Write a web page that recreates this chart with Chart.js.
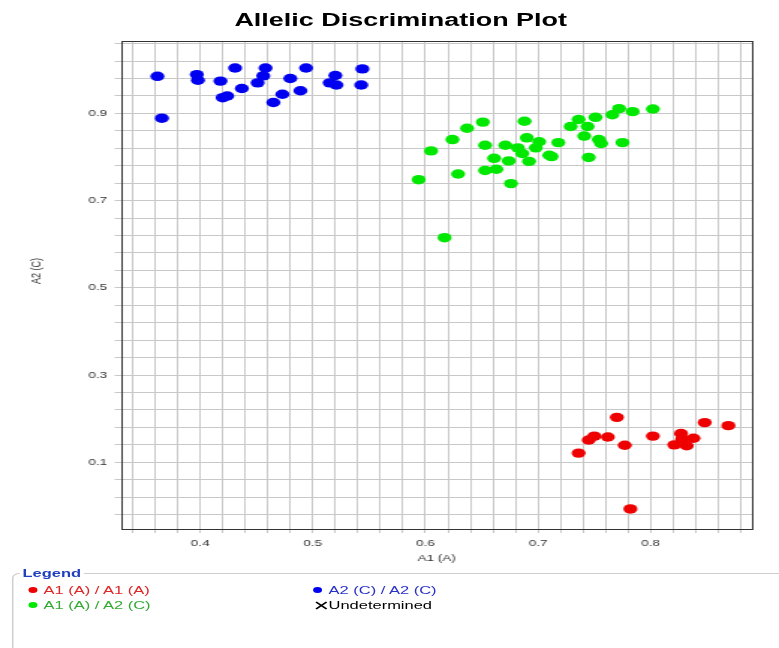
<!DOCTYPE html>
<html>
<head>
<meta charset="utf-8">
<script src="https://cdn.jsdelivr.net/npm/chart.js@4.4.1/dist/chart.umd.min.js"></script>
<style>
  html, body { margin: 0; padding: 0; background: #fff; overflow: hidden; }
  /* the reference picture is stretched sideways, so the whole page is drawn narrow and scaled */
  #page { position: absolute; left: 0; top: 0; width: 520px; height: 648px;
          transform: scaleX(1.498); transform-origin: 0 0;
          font-family: "Liberation Sans", Arial, sans-serif; }
  #title { position: absolute; left: 0; top: 10px; width: 535px; text-align: center;
           font-weight: bold; font-size: 18px; line-height: 20px; color: #000; }
  #chart { position: absolute; left: 0; top: 0; }
  #legendBox { position: absolute; left: 8px; top: 573px; width: 600px; height: 120px;
               border: 1px solid #cfcfcf; border-radius: 5px; }
  #legendTitle { position: absolute; left: 13px; top: 566.5px; padding: 0 2px; background: #fff;
                 font-weight: bold; font-size: 11px; line-height: 13px; color: #1f3fbf; }
  .item { position: absolute; font-size: 11px; line-height: 13px; white-space: nowrap; }
  .dot { position: absolute; width: 6px; height: 6px; border-radius: 50%; }
</style>
</head>
<body>
<div id="page">
  <div id="title">Allelic Discrimination Plot</div>
  <canvas id="chart" width="520" height="570"></canvas>
  <div id="legendBox"></div>
  <div id="legendTitle">Legend</div>
  <div id="legendItems"></div>
</div>
<script>
// series names / colours
const seriesNames = ['A1 (A) / A1 (A)', 'A1 (A) / A2 (C)', 'A2 (C) / A2 (C)', 'Undetermined'];
const pointColors = ['#ee0000', '#00e800', '#0000f0', '#000000'];
const textColors = ['#dd2626', '#33aa33', '#2a32c8', '#000000'];

// A1/A1 (red)
const a1a1X = [0.736, 0.745, 0.750, 0.762, 0.770, 0.777, 0.782, 0.802, 0.821, 0.827, 0.828, 0.832, 0.838, 0.848, 0.869];
const a1a1Y = [0.121, 0.151, 0.160, 0.158, 0.203, 0.139, -0.007, 0.160, 0.140, 0.166, 0.153, 0.138, 0.155, 0.191, 0.184];

// A1/A2 (green)
const a1a2X = [0.594, 0.605, 0.617, 0.624, 0.629, 0.637, 0.651, 0.653, 0.653, 0.661, 0.663, 0.671, 0.674, 0.676, 0.682, 0.686, 0.688, 0.690, 0.692,
               0.698, 0.701, 0.710, 0.712, 0.718, 0.729, 0.736, 0.741, 0.744, 0.745, 0.751, 0.754, 0.756, 0.766, 0.772, 0.775, 0.784, 0.802];
const a1a2Y = [0.748, 0.814, 0.615, 0.840, 0.761, 0.866, 0.880, 0.827, 0.769, 0.797, 0.772, 0.827, 0.791, 0.739, 0.821, 0.808, 0.882, 0.844, 0.790,
               0.821, 0.835, 0.804, 0.801, 0.833, 0.870, 0.886, 0.848, 0.870, 0.799, 0.891, 0.840, 0.831, 0.897, 0.911, 0.833, 0.904, 0.910];

// A2/A2 (blue)
const a2a2X = [0.362, 0.366, 0.397, 0.398, 0.418, 0.431, 0.420, 0.424, 0.437, 0.451, 0.458, 0.456, 0.465, 0.473, 0.480, 0.494, 0.489, 0.520, 0.515, 0.521, 0.544, 0.543];
const a2a2Y = [0.985, 0.889, 0.989, 0.976, 0.974, 1.004, 0.936, 0.940, 0.957, 0.970, 1.004, 0.986, 0.925, 0.944, 0.980, 1.004, 0.952, 0.987, 0.970, 0.965, 1.002, 0.965];

// undetermined - none in this run
const undetX = [];
const undetY = [];

// tick labels
const xTickLabels = [0.4, 0.5, 0.6, 0.7, 0.8];
const yTickLabels = [0.1, 0.3, 0.5, 0.7, 0.9];

const xMin = 0.33, xMax = 0.89, xGridStep = 0.02;
const yMin = -0.053, yMax = 1.066, yGridStep = 0.04;

function gridValues(start, end, step) {
  const out = [];
  for (let v = start; v <= end + 1e-9; v += step) out.push(Math.round(v * 1000) / 1000);
  return out;
}
const xGrid = gridValues(0.34, 0.88, xGridStep);
const yGrid = gridValues(-0.02, 1.06, yGridStep);

function labelFor(list) {
  return (value) => {
    const hit = list.find(l => Math.abs(l - value) < 1e-6);
    return hit !== undefined ? hit.toFixed(1) : '';
  };
}

const toPoints = (xs, ys) => xs.map((x, i) => ({ x: x, y: ys[i] }));

const tickFont = { family: '"Liberation Sans", Arial, sans-serif', size: 9 };

// dark frame round the plot, and the y title (sits a bit above the middle in the original)
const frame = {
  id: 'frame',
  beforeDatasetsDraw(chart) {
    const a = chart.chartArea;
    const c = chart.ctx;
    c.save();
    c.strokeStyle = '#333';
    c.lineWidth = 1;
    c.strokeRect(Math.round(a.left) + 0.5, Math.round(a.top) + 0.5, Math.round(a.right - a.left), Math.round(a.bottom - a.top));
    c.restore();
  },
  afterDraw(chart) {
    const c = chart.ctx;
    c.save();
    c.translate(24.7, 271);
    c.rotate(-Math.PI / 2);
    c.fillStyle = '#333';
    c.font = '9px "Liberation Sans", Arial, sans-serif';
    c.textAlign = 'center';
    c.textBaseline = 'middle';
    c.fillText('A2 (C)', 0, 0);
    c.restore();
  }
};

new Chart(document.getElementById('chart'), {
  type: 'scatter',
  data: {
    datasets: [
      { label: seriesNames[0], data: toPoints(a1a1X, a1a1Y), backgroundColor: pointColors[0], borderColor: pointColors[0] },
      { label: seriesNames[1], data: toPoints(a1a2X, a1a2Y), backgroundColor: pointColors[1], borderColor: pointColors[1] },
      { label: seriesNames[2], data: toPoints(a2a2X, a2a2Y), backgroundColor: pointColors[2], borderColor: pointColors[2] },
      { label: seriesNames[3], data: toPoints(undetX, undetY), pointStyle: 'crossRot', borderColor: pointColors[3] }
    ]
  },
  options: {
    responsive: false,
    animation: false,
    devicePixelRatio: 1,
    layout: { padding: { top: 41, right: 18, bottom: 0, left: 0 } },
    elements: { point: { radius: 4.7, borderWidth: 0, hoverRadius: 4.7 } },
    plugins: { legend: { display: false }, tooltip: { enabled: false } },
    scales: {
      x: {
        type: 'linear', min: xMin, max: xMax,
        afterBuildTicks: (s) => { s.ticks = xGrid.map(v => ({ value: v })); },
        afterFit: (s) => { s.height = 41; },
        ticks: { autoSkip: false, maxRotation: 0, padding: 5, color: '#333', font: tickFont, callback: labelFor(xTickLabels) },
        grid: { color: '#c8c8c8', lineWidth: 1, tickLength: 4 },
        border: { color: '#333', width: 1 },
        title: { display: true, text: 'A1 (A)', color: '#333', font: tickFont, padding: { top: 0, bottom: 6.5 } }
      },
      y: {
        type: 'linear', min: yMin, max: yMax,
        afterBuildTicks: (s) => { s.ticks = yGrid.map(v => ({ value: v })); },
        afterFit: (s) => { s.width = 81; },
        ticks: { autoSkip: false, padding: 5, color: '#333', font: tickFont, callback: labelFor(yTickLabels) },
        grid: { color: '#c8c8c8', lineWidth: 1, tickLength: 4.5 },
        border: { color: '#333', width: 1 },
        title: { display: false }
      }
    }
  },
  plugins: [frame]
});

// html legend, two columns
const legendPos = [
  { left: 19, top: 583.5 },
  { left: 19, top: 598.5 },
  { left: 209.3, top: 583.5 },
  { left: 209.3, top: 598.5 }
];
const holder = document.getElementById('legendItems');
seriesNames.forEach((name, i) => {
  const p = legendPos[i];
  const item = document.createElement('div');
  item.className = 'item';
  item.style.left = (p.left + 10) + 'px';
  item.style.top = p.top + 'px';
  item.style.color = textColors[i];
  item.textContent = name;
  holder.appendChild(item);
  if (name === 'Undetermined') {
    const svgNS = 'http://www.w3.org/2000/svg';
    const svg = document.createElementNS(svgNS, 'svg');
    svg.setAttribute('width', '9');
    svg.setAttribute('height', '9');
    svg.style.position = 'absolute';
    svg.style.left = (p.left + 0.5) + 'px';
    svg.style.top = (p.top + 2.5) + 'px';
    svg.innerHTML = '<path d="M1 1 L8 8 M8 1 L1 8" stroke="#000" stroke-width="1.3" fill="none"/>';
    holder.appendChild(svg);
  } else {
    const dot = document.createElement('div');
    dot.className = 'dot';
    dot.style.left = p.left + 'px';
    dot.style.top = (p.top + 3.5) + 'px';
    dot.style.background = pointColors[i];
    holder.appendChild(dot);
  }
});
</script>
</body>
</html>
